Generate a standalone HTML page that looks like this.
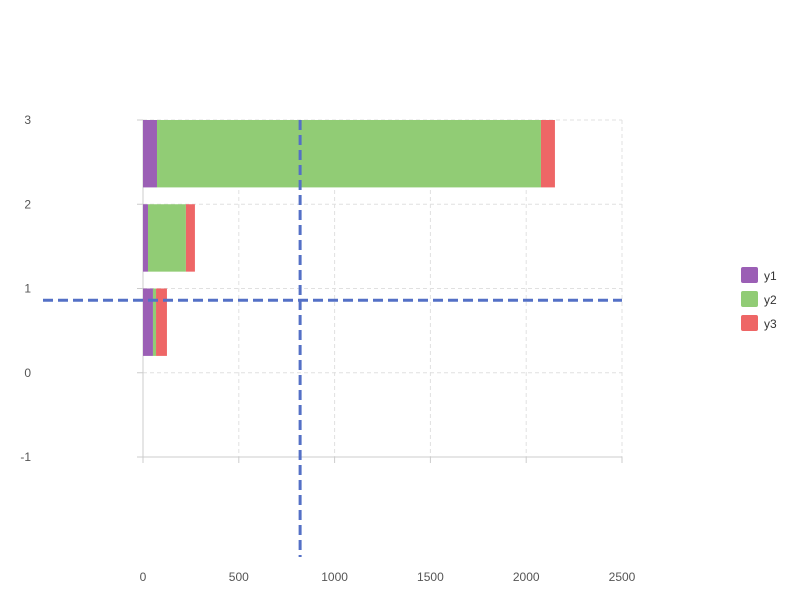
<!DOCTYPE html>
<html><head><meta charset="utf-8"><style>
body{margin:0;background:#fff;}
svg{display:block;font-family:"Liberation Sans","DejaVu Sans",sans-serif;}
</style></head><body>
<svg id="chart" width="800" height="600" viewBox="0 0 800 600"></svg>
<script>
const categories = [1, 2, 3];
const y1 = [52, 26, 73];
const y2 = [16, 198, 2004];
const y3 = [57, 47, 73];
const xTicks = [0, 500, 1000, 1500, 2000, 2500];
const yTicks = [-1, 0, 1, 2, 3];
const seriesNames = ['y1', 'y2', 'y3'];
const colors = ['#9b5fb5', '#91cc75', '#ee6666'];
const crossX = 820, crossY = 0.86;

const svg = document.getElementById('chart');
const NS = 'http://www.w3.org/2000/svg';
const X0 = 143, X1 = 622, Y0 = 457, Y1 = 120;
const xs = v => X0 + (v - 0) / 2500 * (X1 - X0);
const ys = v => Y0 - (v + 1) / 4 * (Y0 - Y1);
function mk(tag, attrs, parent) {
  const e = document.createElementNS(NS, tag);
  for (const k in attrs) e.setAttribute(k, attrs[k]);
  (parent || svg).appendChild(e);
  return e;
}
// grid
xTicks.forEach(t => {
  if (t !== 0) {
    const g = mk('line', {x1: xs(t), x2: xs(t), y1: Y1, y2: Y0, stroke: '#e0e0e0', 'stroke-dasharray': '4,3'});
    
    
  }
  const tk = mk('line', {x1: xs(t), x2: xs(t), y1: Y0, y2: Y0 + 6, stroke: '#ccc'});
  
  
  const tx = mk('text', {x: xs(t), y: 581, 'text-anchor': 'middle', 'font-size': 12, fill: '#555'});
  tx.textContent = t;
  
  
});
yTicks.forEach(t => {
  if (t !== -1) {
    const g = mk('line', {x1: X0, x2: X1, y1: ys(t), y2: ys(t), stroke: '#e0e0e0', 'stroke-dasharray': '4,3'});
    
    
  }
  const tk = mk('line', {x1: X0 - 6, x2: X0, y1: ys(t), y2: ys(t), stroke: '#ccc'});
  
  
  const tx = mk('text', {x: 31, y: ys(t) + 4, 'text-anchor': 'end', 'font-size': 12, fill: '#555'});
  tx.textContent = t;
  
  
});
const xa = mk('line', {x1: X0, x2: X1, y1: Y0, y2: Y0, stroke: '#ccc'});


const ya = mk('line', {x1: X0, x2: X0, y1: Y1, y2: Y0, stroke: '#ccc'});


// bars
const series = [y1, y2, y3];
categories.forEach((c, i) => {
  let acc = 0;
  series.forEach((s, k) => {
    const r = mk('rect', {x: xs(acc), y: ys(c), width: xs(acc + s[i]) - xs(acc), height: ys(c - 0.8) - ys(c), fill: colors[k]});
    
    
    acc += s[i];
  });
});
// crosshair
const cv = mk('line', {x1: xs(crossX), x2: xs(crossX), y1: Y1, y2: 557, stroke: '#5470c6', 'stroke-width': 3, 'stroke-dasharray': '10,5'});


const ch = mk('line', {x1: 43, x2: X1, y1: ys(crossY), y2: ys(crossY), stroke: '#5470c6', 'stroke-width': 3, 'stroke-dasharray': '10,5'});


// legend
seriesNames.forEach((n, k) => {
  const g = mk('g', {});
  
  
  mk('rect', {x: 741, y: 267 + k * 24, width: 17, height: 16, rx: 2, fill: colors[k]}, g);
  const t = mk('text', {x: 764, y: 280 + k * 24, 'font-size': 12, fill: '#333'}, g);
  t.textContent = n;
});
</script>
</body></html>
